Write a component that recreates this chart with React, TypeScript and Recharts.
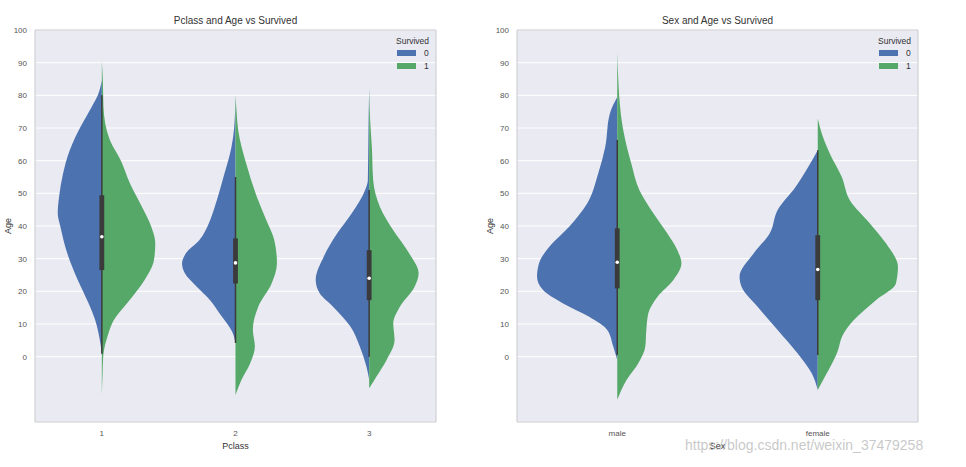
import { ComposedChart, Area, XAxis, YAxis, CartesianGrid, ReferenceArea, ReferenceLine, ReferenceDot } from "recharts";

const BLUE = "#4C72B0";
const GREEN = "#55A868";
const BOX = "#3b3b3b";
const FONT = "'Liberation Sans', Arial, sans-serif";

// [age, half width in category units]
type Side = [number, number][];

const ageTicks = [0, 10, 20, 30, 40, 50, 60, 70, 80, 90, 100];
const legendTitle = "Survived";
const legendLabels = ["0", "1"];

// Pclass panel
const pclassLabels = ["1", "2", "3"];
const pclassPositions = [1, 2, 3];
const pclass1Died: Side = [[84.6, 0], [80, 0.03], [76.5, 0.075], [70.3, 0.16], [63.2, 0.24], [56.1, 0.29], [48.9, 0.32], [44, 0.33], [39.8, 0.31], [30.6, 0.25], [23.5, 0.18], [16.4, 0.1], [11.2, 0.05], [5.1, 0.015], [1, 0]];
const pclass1Survived: Side = [[90.5, 0], [84, 0.008], [76.5, 0.012], [66.3, 0.06], [60.2, 0.14], [53.1, 0.21], [45.9, 0.3], [39.8, 0.37], [34.7, 0.4], [29.6, 0.39], [23.5, 0.32], [16.4, 0.19], [11.2, 0.09], [7.2, 0.05], [0, 0.01], [-6, 0.005], [-11.7, 0]];
const pclass2Died: Side = [[80, 0], [70, 0.01], [64.2, 0.03], [55, 0.09], [45.9, 0.155], [40.8, 0.2], [35.7, 0.27], [31.7, 0.37], [28.5, 0.4], [25.6, 0.38], [21.4, 0.29], [17.3, 0.19], [13.3, 0.12], [7.2, 0.02], [4.2, 0]];
const pclass2Survived: Side = [[80, 0], [75, 0.008], [69.3, 0.02], [59.1, 0.08], [48.9, 0.16], [41.8, 0.23], [35.7, 0.29], [28.6, 0.31], [22.4, 0.27], [15.3, 0.17], [8.2, 0.13], [3.1, 0.145], [-2, 0.11], [-7.1, 0.045], [-11.7, 0]];
const pclass3Died: Side = [[82, 0], [70, 0.005], [54, 0.01], [51, 0.03], [43.9, 0.13], [37.7, 0.24], [30.6, 0.34], [23.5, 0.4], [19.4, 0.37], [15.3, 0.27], [9.2, 0.14], [3.1, 0.07], [-3.1, 0.02], [-7.1, 0]];
const pclass3Survived: Side = [[82, 0], [72, 0.008], [64.2, 0.02], [54, 0.03], [45.9, 0.08], [38.7, 0.18], [31.6, 0.3], [25.5, 0.37], [21.4, 0.34], [15.3, 0.23], [10.2, 0.18], [5.1, 0.19], [-1, 0.13], [-6.1, 0.055], [-9.7, 0]];
const pclassLow = [0.9, 4.2, 0];
const pclassQ1 = [26.5, 22.4, 17.3];
const pclassMedian = [36.7, 28.7, 24];
const pclassQ3 = [49.4, 36.2, 32.6];
const pclassHigh = [80, 55, 51];

// Sex panel
const sexLabels = ["male", "female"];
const sexPositions = [0, 1];
const maleDied: Side = [[79.5, 0], [74.4, 0.037], [64.2, 0.06], [56.1, 0.095], [46.9, 0.15], [39.8, 0.24], [33.6, 0.34], [28.6, 0.39], [24.5, 0.4], [20.4, 0.37], [16.3, 0.27], [12.2, 0.14], [8.2, 0.05], [3.1, 0.02], [-1, 0]];
const maleSurvived: Side = [[93.3, 0], [85, 0.005], [79.5, 0.01], [69.3, 0.03], [59.1, 0.07], [51, 0.11], [43.9, 0.18], [37.7, 0.25], [32.6, 0.3], [28.6, 0.32], [23.5, 0.28], [18.3, 0.2], [13.3, 0.155], [8.2, 0.145], [3.1, 0.14], [-2, 0.105], [-7.1, 0.047], [-13.2, 0]];
const femaleDied: Side = [[63.2, 0], [58.1, 0.047], [52, 0.11], [44.9, 0.2], [37.7, 0.24], [31.6, 0.32], [24.5, 0.39], [21.4, 0.38], [15.3, 0.3], [8.2, 0.2], [1, 0.1], [-5.1, 0.03], [-10.2, 0]];
const femaleSurvived: Side = [[72.9, 0], [68.3, 0.02], [62.2, 0.06], [55, 0.12], [47.9, 0.16], [40.8, 0.26], [34.7, 0.34], [27.5, 0.4], [22.4, 0.39], [17.3, 0.29], [11.2, 0.18], [7.2, 0.13], [1, 0.095], [-5.1, 0.045], [-10.2, 0]];
const sexLow = [0.5, 0.5];
const sexQ1 = [20.9, 17.3];
const sexMedian = [28.9, 26.7];
const sexQ3 = [39.3, 37.2];
const sexHigh = [66.3, 63.2];

// one row per age, each violin half as a [from, to] range on the x axis
function buildRows(positions: number[], died: Side[], survived: Side[]) {
  const ages = Array.from(new Set([...died, ...survived].flat().map((p) => p[0]))).sort((a, b) => a - b);
  return ages.map((age) => {
    const row: Record<string, any> = { age };
    positions.forEach((pos, i) => {
      const d = died[i].find((p) => p[0] === age);
      const s = survived[i].find((p) => p[0] === age);
      row[`died${i}`] = d ? [pos - d[1], pos] : [null, null];
      row[`surv${i}`] = s ? [pos, pos + s[1]] : [null, null];
    });
    return row;
  });
}

interface PanelProps {
  left: number;
  title: string;
  xLabel: string;
  labels: string[];
  positions: number[];
  died: Side[];
  survived: Side[];
  low: number[];
  q1: number[];
  median: number[];
  q3: number[];
  high: number[];
  boxHalf: number;
}

function ViolinPanel(p: PanelProps) {
  const data = buildRows(p.positions, p.died, p.survived);
  const xDomain = [p.positions[0] - 0.5, p.positions[p.positions.length - 1] + 0.5];
  const tick = { fontSize: 8, fill: "#555", fontFamily: FONT };

  return (
    <div style={{ position: "absolute", left: p.left, top: 0, width: 440, height: 467 }}>
      <div style={{ position: "absolute", left: 35, top: 15, width: 401, textAlign: "center", fontSize: 10, color: "#333", fontFamily: FONT }}>
        {p.title}
      </div>
      <ComposedChart width={440} height={467} data={data} layout="vertical" margin={{ top: 30, right: 4, bottom: 0, left: 0 }}>
        <CartesianGrid vertical={false} fill="#EAEAF2" stroke="#ffffff" strokeWidth={1} />
        <XAxis
          type="number"
          domain={xDomain}
          ticks={p.positions}
          tickFormatter={(v: number) => p.labels[p.positions.indexOf(v)]}
          allowDataOverflow
          axisLine={false}
          tickLine={false}
          tick={tick}
          height={45}
          label={{ value: p.xLabel, position: "insideBottom", offset: 18, fontSize: 9, fill: "#333", fontFamily: FONT }}
        />
        <YAxis
          type="number"
          dataKey="age"
          domain={[-20, 100]}
          ticks={ageTicks}
          reversed
          allowDataOverflow
          axisLine={false}
          tickLine={false}
          tick={tick}
          width={35}
          label={{ value: "Age", angle: -90, position: "insideLeft", offset: 8, fontSize: 9, fill: "#333", fontFamily: FONT, style: { textAnchor: "middle" } }}
        />
        {p.positions.map((_, i) => (
          <Area key={`d${i}`} dataKey={`died${i}`} type="monotone" fill={BLUE} fillOpacity={1} stroke="none" connectNulls dot={false} activeDot={false} isAnimationActive={false} />
        ))}
        {p.positions.map((_, i) => (
          <Area key={`s${i}`} dataKey={`surv${i}`} type="monotone" fill={GREEN} fillOpacity={1} stroke="none" connectNulls dot={false} activeDot={false} isAnimationActive={false} />
        ))}
        {p.positions.map((pos, i) => (
          <ReferenceLine key={`w${i}`} segment={[{ x: pos, y: p.low[i] }, { x: pos, y: p.high[i] }]} stroke={BOX} strokeWidth={1.5} />
        ))}
        {p.positions.map((pos, i) => (
          <ReferenceArea key={`b${i}`} x1={pos - p.boxHalf} x2={pos + p.boxHalf} y1={p.q1[i]} y2={p.q3[i]} fill={BOX} fillOpacity={1} stroke="none" />
        ))}
        {p.positions.map((pos, i) => (
          <ReferenceDot key={`m${i}`} x={pos} y={p.median[i]} r={1.8} fill="#ffffff" stroke="none" />
        ))}
        <ReferenceArea x1={xDomain[0]} x2={xDomain[1]} y1={-20} y2={100} fill="none" stroke="#c9c9cf" strokeWidth={1} />
      </ComposedChart>
      <div style={{ position: "absolute", left: 396, top: 36, fontSize: 8.5, color: "#333", fontFamily: FONT, lineHeight: "11px" }}>
        {legendTitle}
      </div>
      {legendLabels.map((lab, i) => (
        <div key={lab}>
          <div style={{ position: "absolute", left: 397, top: 50 + i * 13, width: 19, height: 6, background: i === 0 ? BLUE : GREEN }} />
          <div style={{ position: "absolute", left: 424, top: 47.5 + i * 13, fontSize: 8.5, color: "#333", fontFamily: FONT, lineHeight: "11px" }}>
            {lab}
          </div>
        </div>
      ))}
    </div>
  );
}

export default function App() {
  return (
    <div style={{ position: "absolute", left: 0, top: 0, width: 966, height: 467, background: "#fff", overflow: "hidden" }}>
      <ViolinPanel
        left={0}
        title="Pclass and Age vs Survived"
        xLabel="Pclass"
        labels={pclassLabels}
        positions={pclassPositions}
        died={[pclass1Died, pclass2Died, pclass3Died]}
        survived={[pclass1Survived, pclass2Survived, pclass3Survived]}
        low={pclassLow}
        q1={pclassQ1}
        median={pclassMedian}
        q3={pclassQ3}
        high={pclassHigh}
        boxHalf={0.018}
      />
      <ViolinPanel
        left={482}
        title="Sex and Age vs Survived"
        xLabel="Sex"
        labels={sexLabels}
        positions={sexPositions}
        died={[maleDied, femaleDied]}
        survived={[maleSurvived, femaleSurvived]}
        low={sexLow}
        q1={sexQ1}
        median={sexMedian}
        q3={sexQ3}
        high={sexHigh}
        boxHalf={0.012}
      />
      <div style={{ position: "absolute", left: 685, top: 437, fontSize: 14, color: "rgba(190,190,190,0.85)", fontFamily: FONT }}>
        https://blog.csdn.net/weixin_37479258
      </div>
    </div>
  );
}
